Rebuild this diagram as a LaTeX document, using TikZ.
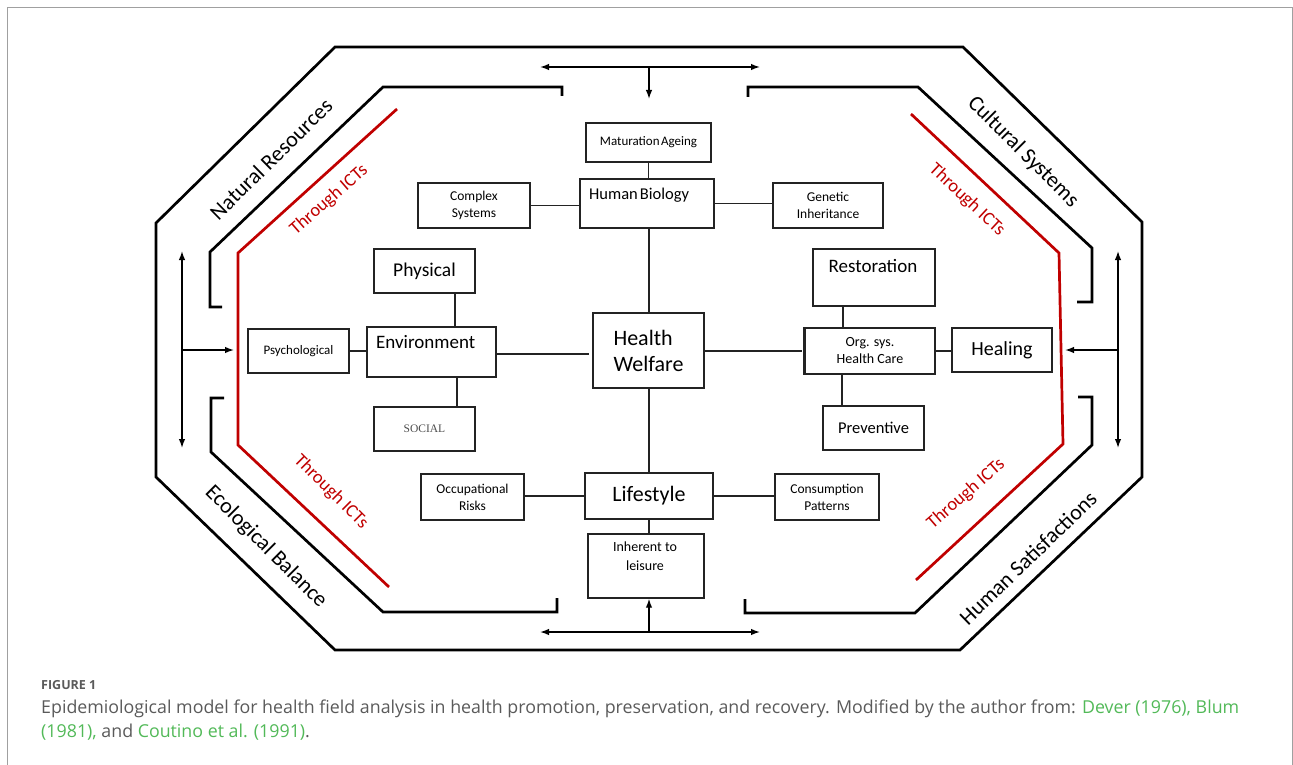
\documentclass[tikz,border=0pt]{standalone}
\usepackage{fontspec}
\setmainfont{Carlito}
\newfontfamily\capfont{Open Sans}
\newfontfamily\serifont{Liberation Serif}
\usetikzlibrary{arrows.meta,calc}
\definecolor{ictred}{RGB}{192,0,0}
\definecolor{capgray}{RGB}{90,90,90}
\definecolor{capgreen}{RGB}{82,185,88}
\definecolor{boxline}{RGB}{35,35,35}
\definecolor{framegray}{RGB}{160,160,160}
\begin{document}
\begin{tikzpicture}[x=1pt,y=-1pt,
  >={Latex[length=9pt,width=6.5pt]},
  box/.style={draw=boxline, line width=1.4pt, inner sep=0pt, rectangle},
  conn/.style={draw=boxline, line width=1.5pt},
  heavy/.style={draw=black, line width=2.7pt, line join=miter},
  ictline/.style={draw=ictred, line width=2.7pt},
  arr/.style={draw=black, line width=1.4pt},
  ring/.style={font=\fontsize{22}{24}\selectfont, inner sep=0pt},
  ict/.style={font=\fontsize{18.5}{20}\selectfont, text=ictred, inner sep=0pt},
  small/.style={font=\fontsize{13.5}{17}\selectfont, align=center},
]
\useasboundingbox (0,0) rectangle (1293,765);
% frame
\draw[framegray, line width=1pt] (7.5,765) -- (7.5,8) -- (1292,8) -- (1292,765);

% outer octagon
\draw[heavy] (335,47) -- (963,47) -- (1142,222) -- (1142,477) -- (960,650) -- (335,650) -- (156,477) -- (156,223) -- cycle;

% inner brackets
\draw[heavy] (562,96) -- (562,87) -- (383,87) -- (210,252) -- (210,307) -- (222,307);
\draw[heavy] (748,97) -- (748,87) -- (918,87) -- (1092,248) -- (1092,302) -- (1077,302);
\draw[heavy] (224,398) -- (211,398) -- (211,452) -- (383,612) -- (557,612) -- (557,598);
\draw[heavy] (745,599) -- (745,613) -- (915,613) -- (1092,445) -- (1092,397) -- (1078,397);

% red ICT lines
\draw[ictline] (397,109) -- (238,253) -- (238,445) -- (389,587);
\draw[ictline] (911,114) -- (1059,253) -- (1063,444) -- (916,580);

% ring labels
\node[ring, rotate=44.5] (natres) at (271,159) {Natural Resources};
\node[ring, rotate=-45] (cultsys) at (1023,152) {Cultural Systems};
\node[ring, rotate=-45] (ecobal) at (266,547) {Ecological Balance};
\node[ring, rotate=44] (humsat) at (1028,558) {Human Satisfactions};

% ICT labels
\node[ict, rotate=41] (ict1) at (329,200) {Through ICTs};
\node[ict, rotate=-43] (ict2) at (967,200) {Through ICTs};
\node[ict, rotate=-45] (ict3) at (331,492) {Through ICTs};
\node[ict, rotate=41] (ict4) at (966,494) {Through ICTs};

% boxes
\node[box, minimum width=125pt, minimum height=39pt, font=\fontsize{13}{15}\selectfont] (mat) at (648.5,142.5) {Maturation\kern1.5ptAgeing};
\node[box, minimum width=134pt, minimum height=49pt] (hb) at (647,203.5) {};
\node[anchor=base west, inner sep=0pt, font=\fontsize{16.5}{18}\selectfont] (hbt) at (589,199) {Human\kern2ptBiology};
\node[box, small, minimum width=112pt, minimum height=45pt] (cs) at (474,205.5) {Complex\\Systems};
\node[box, small, minimum width=110pt, minimum height=45pt] (gi) at (828,205.5) {Genetic\\Inheritance};
\node[box, minimum width=101pt, minimum height=44pt, font=\fontsize{19.5}{22}\selectfont] (phy) at (424.5,271) {Physical};
\node[box, minimum width=122pt, minimum height=57pt] (res) at (874,277.5) {};
\node[anchor=base, inner sep=0pt, font=\fontsize{19}{22}\selectfont] (rest) at (873,272) {Restoration};
\node[box, minimum width=129pt, minimum height=50pt] (env) at (431.5,352) {};
\node[anchor=base west, inner sep=0pt, font=\fontsize{19}{22}\selectfont] (envt) at (376,348) {Environment};
\node[box, minimum width=101pt, minimum height=44pt, font=\fontsize{13}{15}\selectfont] (psy) at (298.5,351) {Psychological};
\node[box, minimum width=101pt, minimum height=44pt, font=\serifont\fontsize{11.5}{13}\selectfont, text=black!70] (soc) at (424.5,429) {SOCIAL};
\node[box, minimum width=111pt, minimum height=75pt, align=left, font=\fontsize{22}{26}\selectfont] (hw) at (648.5,350.5) {Health\\Welfare};
\node[box, minimum width=128pt, minimum height=46pt, font=\fontsize{22}{24}\selectfont] (ls) at (649,496) {Lifestyle};
\node[box, minimum width=116pt, minimum height=64pt] (inh) at (646,566) {};
\node[small, inner sep=0pt, font=\fontsize{14}{19}\selectfont] (inht) at (645,556.5) {Inherent to\\leisure};
\node[box, small, minimum width=103pt, minimum height=46pt] (occ) at (472.5,497) {Occupational\\Risks};
\node[box, small, minimum width=104pt, minimum height=46pt] (con) at (827,497) {Consumption\\Patterns};
\node[box, small, minimum width=130pt, minimum height=46pt, font=\fontsize{14}{17}\selectfont] (org) at (870,351) {Org. sys.\\Health Care};
\node[box, minimum width=100pt, minimum height=44pt, font=\fontsize{20}{22}\selectfont] (heal) at (1002,350) {Healing};
\node[box, minimum width=101pt, minimum height=44pt, font=\fontsize{16.5}{18}\selectfont] (prev) at (873.5,428) {Preventive};
\draw[boxline, line width=2.4pt] (org.north west) -- (org.south west);

% connectors
\draw[conn] (mat.south) -- (mat.south |- hb.north);
\draw[conn] (cs.east) -- (cs.east -| hb.west);
\draw[conn] (hb.east) -- (hb.east -| gi.west);
\draw[conn] ([xshift=2pt]hb.south) -- ([xshift=2pt]hb.south |- hw.north);
\draw[conn] ([xshift=0.5pt]hw.south) -- ([xshift=0.5pt]hw.south |- ls.north);
\draw[conn] (ls.south) -- (ls.south |- inh.north);
\draw[conn] (ls.west) -- (ls.west -| occ.east);
\draw[conn] (ls.east) -- (ls.east -| con.west);
\draw[conn] ([xshift=30.5pt]phy.south) -- ([xshift=30.5pt]phy.south |- env.north);
\draw[conn] ([xshift=32.5pt]soc.north) -- ([xshift=32.5pt]soc.north |- env.south);
\draw[conn] (psy.east) -- (psy.east -| env.west);
\draw[conn] ([yshift=-2pt]env.east) -- ([yshift=-2pt,xshift=-3pt]env.east -| hw.west);
\draw[conn] ([yshift=-0.5pt]hw.east) -- ([yshift=-0.5pt,xshift=-2pt]hw.east -| org.west);
\draw[conn] ([xshift=-31pt]res.south) -- ([xshift=-31pt]res.south |- org.north);
\draw[conn] ([xshift=-31.5pt]prev.north) -- ([xshift=-31.5pt]prev.north |- org.south);
\draw[conn] (org.east) -- (org.east -| heal.west);

% arrows
\coordinate (tl) at (540,67); \coordinate (tr) at (760,67); \coordinate (tm) at (649,67); \coordinate (td) at (649,99);
\draw[arr,<->] (tl) -- (tr);
\draw[arr,->] (tm) -- (td);
\coordinate (bl) at (540,632); \coordinate (br) at (760,632); \coordinate (bm) at (649,632);
\draw[arr,<->] (bl) -- (br);
\draw[arr,->] (bm) -- (inh.south -| bm);
\coordinate (lt) at (182,251); \coordinate (lb) at (182,448); \coordinate (lm) at (182,350); \coordinate (lr) at (234,350);
\draw[arr,<->] (lt) -- (lb);
\draw[arr,->] (lm) -- (lr);
\coordinate (rt) at (1118,251); \coordinate (rb) at (1118,448); \coordinate (rm) at (1118,350); \coordinate (rl) at (1065,350);
\draw[arr,<->] (rt) -- (rb);
\draw[arr,->] (rm) -- (rl);

% caption
\node[anchor=base west, inner sep=0pt, text=capgray, font=\capfont\bfseries\fontsize{12.5}{15}\selectfont] (figlab) at (41,689) {FIGURE 1};
\node[anchor=base west, inner sep=0pt, text=capgray, font=\capfont\fontsize{17.8}{20}\selectfont] (cap1) at (41,713) {Epidemiological model for health field analysis in health promotion, preservation, and recovery. Modified by the author from: \textcolor{capgreen}{Dever (1976), Blum}};
\node[anchor=base west, inner sep=0pt, text=capgray, font=\capfont\fontsize{17.8}{20}\selectfont] (cap2) at (41,737) {\textcolor{capgreen}{(1981),} and \textcolor{capgreen}{Coutino et al. (1991)}.};
\end{tikzpicture}
\end{document}
